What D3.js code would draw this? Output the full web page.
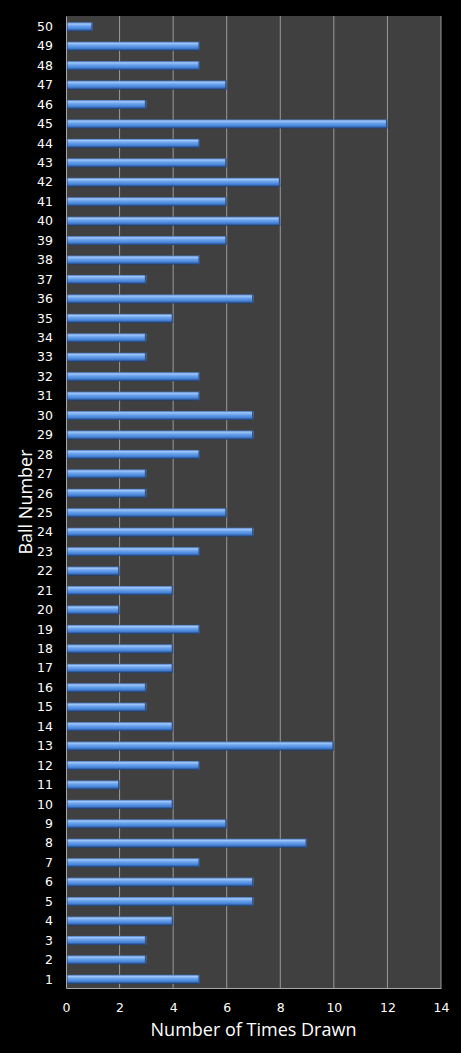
<!DOCTYPE html>
<html>
<head>
<meta charset="utf-8">
<script src="https://cdn.jsdelivr.net/npm/d3@7"></script>
<style>
    body { margin: 0; background: #000; }
    svg { display: block; }
    .tick text { fill: #fff; font-family: "DejaVu Sans", Verdana, sans-serif; font-size: 12.5px; }
    .title { fill: #fff; font-family: "Open Sans", "DejaVu Sans", sans-serif; font-size: 18px; }
</style>
</head>
<body>
<svg id="chart"></svg>
<script>
// Ball numbers, bottom to top
let balls = d3.range(1, 51);
// times each ball was drawn
let timesDrawn = [5, 3, 3, 4, 7, 7, 5, 9, 6, 4,
    2, 5, 10, 4, 3, 3, 4, 4, 5, 2,
    4, 2, 5, 7, 6, 3, 3, 5, 7, 7,
    5, 5, 3, 3, 4, 7, 3, 5, 6, 8,
    6, 8, 6, 5, 12, 3, 6, 5, 5, 1];
let xTicks = [0, 2, 4, 6, 8, 10, 12, 14];

let width = 461, height = 1053;
let margin = {top: 16, right: 20, bottom: 65, left: 66};

let svg = d3.select("#chart")
    .attr("width", width)
    .attr("height", height);

let defs = svg.append("defs");
let grad = defs.append("linearGradient")
    .attr("id", "barGrad")
    .attr("x1", 0).attr("y1", 0).attr("x2", 0).attr("y2", 1);
grad.append("stop").attr("offset", "0%").attr("stop-color", "#4676bd");
grad.append("stop").attr("offset", "18%").attr("stop-color", "#9ec6f8");
grad.append("stop").attr("offset", "42%").attr("stop-color", "#6aa2ec");
grad.append("stop").attr("offset", "72%").attr("stop-color", "#4784d8");
grad.append("stop").attr("offset", "100%").attr("stop-color", "#1d3d74");

let x = d3.scaleLinear()
    .domain([0, 14])
    .range([margin.left, width - margin.right]);

let y = d3.scaleBand()
    .domain(balls.slice().reverse())
    .range([margin.top, height - margin.bottom])
    .paddingInner(0.54)
    .paddingOuter(0.27);

// plot background
svg.append("rect")
    .attr("x", x(0))
    .attr("y", margin.top)
    .attr("width", x(14) - x(0))
    .attr("height", height - margin.bottom - margin.top)
    .attr("fill", "#404040");

// vertical gridlines
svg.append("g")
    .selectAll("line")
    .data(xTicks.slice(1))
    .enter()
    .append("line")
    .attr("x1", d => x(d)).attr("x2", d => x(d))
    .attr("y1", margin.top).attr("y2", height - margin.bottom)
    .attr("stroke", "#9a9a9a")
    .attr("stroke-width", 1);

// bars
let bars = svg.append("g")
    .selectAll("g")
    .data(balls)
    .enter()
    .append("g");

bars.append("rect")
    .attr("x", x(0) + 1.5)
    .attr("y", d => y(d) + 1)
    .attr("width", d => x(timesDrawn[d - 1]) - x(0) - 1.5)
    .attr("height", y.bandwidth())
    .attr("fill", "url(#barGrad)");

// darker end cap
bars.append("rect")
    .attr("x", d => x(timesDrawn[d - 1]) - 1.5)
    .attr("y", d => y(d) + 1)
    .attr("width", 1.5)
    .attr("height", y.bandwidth())
    .attr("fill", "#2a5494");

// axes
let xAxis = svg.append("g")
    .attr("transform", "translate(0," + (height - margin.bottom) + ")")
    .call(d3.axisBottom(x).tickValues(xTicks).tickSize(0).tickPadding(15));
xAxis.select(".domain").attr("stroke", "#a8a8a8");

let yAxis = svg.append("g")
    .attr("transform", "translate(" + margin.left + ",0)")
    .call(d3.axisLeft(y).tickSize(0).tickPadding(13));
yAxis.select(".domain").attr("stroke", "#a8a8a8");
yAxis.selectAll(".tick text").attr("dy", "0.42em");

// axis titles
svg.append("text")
    .attr("class", "title")
    .attr("x", (x(0) + x(14)) / 2)
    .attr("y", 1036)
    .attr("text-anchor", "middle")
    .text("Number of Times Drawn");

svg.append("text")
    .attr("class", "title")
    .attr("transform", "translate(32," + ((margin.top + height - margin.bottom) / 2) + ") rotate(-90)")
    .attr("text-anchor", "middle")
    .text("Ball Number");
</script>
</body>
</html>
